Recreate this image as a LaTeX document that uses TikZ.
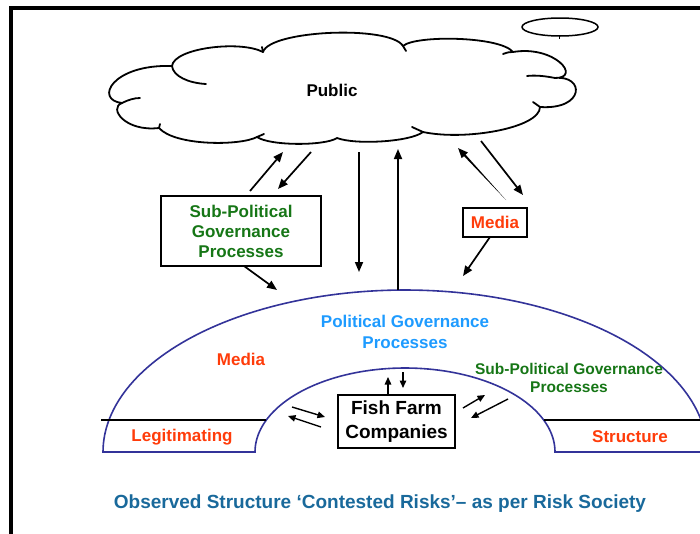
\documentclass[tikz,border=0pt]{standalone}
\usepackage{fontspec}
\setmainfont{Liberation Sans}
\usetikzlibrary{arrows.meta,calc}
\definecolor{navy}{RGB}{51,51,153}
\definecolor{sgreen}{RGB}{22,118,22}
\definecolor{mred}{RGB}{255,60,10}
\definecolor{pblue}{RGB}{30,155,255}
\definecolor{cblue}{RGB}{25,105,155}
\begin{document}
\begin{tikzpicture}[x=1pt,y=-1pt,
  arr/.style={line width=1.7pt,-{Triangle[length=10pt,width=8pt]}},
  sarr/.style={line width=1.4pt,-{Triangle[length=7.5pt,width=6.5pt]}},
  lbl/.style={font=\bfseries\fontsize{17}{20}\selectfont,align=center,inner sep=0pt},
  boxed/.style={draw,line width=1.5pt,inner sep=0pt,align=center},
  cl/.style={line width=1.8pt,line join=round,line cap=round}]
\useasboundingbox (0,0) rectangle (700,533);
\clip (0,0) rectangle (700,533);
% frame
\draw[line width=4pt] (11,545) -- (11,8) -- (710,8);
% small ellipse
\draw[line width=1.5pt] (560,27) ellipse [x radius=38, y radius=9];
\draw[line width=0.8pt] (559,35) -- (559,39);
% cloud
\draw[cl] (122,103) .. controls (94,100) and (112,64) .. (172,66)
  .. controls (174,48) and (240,40) .. (263,52)
  .. controls (270,30) and (390,25) .. (403,46)
  .. controls (415,35) and (500,36) .. (513,52)
  .. controls (555,45) and (582,78) .. (555,78)
  .. controls (585,75) and (585,110) .. (540,107)
  .. controls (540,128) and (465,141) .. (423,132)
  .. controls (410,142) and (355,145) .. (337,138)
  .. controls (325,146) and (270,146) .. (257,137)
  .. controls (240,146) and (175,146) .. (159,128)
  .. controls (125,132) and (108,108) .. (122,103) -- cycle;
\draw[cl] (172,66) .. controls (173,76) and (188,83) .. (206,84);
\draw[cl] (263,52) .. controls (263,49) .. (262,47);
\draw[cl] (403,46) .. controls (405,48) .. (406,51);
\draw[cl] (513,52) .. controls (509,52) .. (503,54);
\draw[cl] (555,78) .. controls (545,76) and (535,75) .. (527,76);
\draw[cl] (540,107) .. controls (537,105) .. (533,102);
\draw[cl] (423,132) .. controls (418,130) .. (412,127);
\draw[cl] (257,137) .. controls (260,136) .. (264,134);
\draw[cl] (159,128) .. controls (160,126) .. (160,124);
\draw[cl] (122,103) .. controls (128,100) and (134,98) .. (140,98);
\node[lbl] (public) at (332,90) {Public};
% arch
\draw[navy,line width=1.6pt] (103,452) -- plot[domain=180:360,samples=120] ({405+302*cos(\x)},{452+162*sin(\x)})
  -- (555,452) -- plot[domain=0:-180,samples=90] ({405+150*cos(\x)},{452+84*sin(\x)}) -- cycle;
\draw[line width=1.3pt] (101,420) -- (266,420);
\draw[line width=1.3pt] (544,420) -- (705,420);
% boxes
\node[boxed,lbl,text=sgreen,minimum width=160pt,minimum height=70pt] (sub) at (241,231) {Sub-Political\\Governance\\Processes};
\node[boxed,lbl,text=mred,minimum width=64pt,minimum height=29pt] (media) at (495,222.5) {Media};
\node[boxed,lbl,font=\bfseries\fontsize{19}{24}\selectfont,minimum width=117pt,minimum height=53pt] (fish) at (396.5,421.5) {Fish Farm\\Companies};
% labels
\node[lbl,text=pblue,font=\bfseries\fontsize{17}{21}\selectfont] (pgp) at (405,332) {Political Governance\\Processes};
\node[lbl,text=mred] (media2) at (241,359) {Media};
\node[lbl,text=sgreen,font=\bfseries\fontsize{15.5}{18}\selectfont] (spg) at (569,378) {Sub-Political Governance\\Processes};
\node[lbl,text=mred] (legit) at (182,437) {Legitimating};
\node[lbl,text=mred] (struct) at (630,437) {Structure};
\node[lbl,text=cblue,font=\bfseries\fontsize{19}{22}\selectfont] (cap) at (380,504) {Observed Structure ‘Contested Risks’– as per Risk Society};
% arrow endpoints
\coordinate (s1) at (250,191); \coordinate (t1) at (283,152);
\coordinate (s2) at (311,152); \coordinate (t2) at (278,189);
\coordinate (s3) at (359,152); \coordinate (t3) at (359,272);
\coordinate (s4) at (398,290); \coordinate (t4) at (398,149);
\coordinate (s5) at (506,200); \coordinate (t5) at (458,148);
\coordinate (s6) at (481,141); \coordinate (t6) at (523,195);
\coordinate (s7) at (490,237); \coordinate (t7) at (463,276);
\coordinate (s8) at (244,266); \coordinate (t8) at (277,290);
\draw[arr] (s1) -- (t1);
\draw[arr] (s2) -- (t2);
\draw[arr] (s3) -- (t3);
\draw[arr] (s4) -- (t4);
\coordinate (b5) at ($(t5)!9pt!(s5)$);
\fill (s5) -- ($(b5)!1.1pt!90:(t5)$) -- ($(b5)!1.1pt!-90:(t5)$) -- cycle;
\draw[arr] (b5) -- (t5);
\draw[arr] (s6) -- (t6);
\draw[arr] (s7) -- (t7);
\draw[arr] (s8) -- (t8);
% small arrows round the fish farm box
\coordinate (u1) at (388,394); \coordinate (v1) at (388,377);
\coordinate (u2) at (403,372); \coordinate (v2) at (403,388);
\coordinate (u3) at (292,407); \coordinate (v3) at (325,417);
\coordinate (u4) at (321,427); \coordinate (v4) at (288,416);
\coordinate (u5) at (463,408); \coordinate (v5) at (485,395);
\coordinate (u6) at (508,399); \coordinate (v6) at (471,418);
\draw[sarr] (u1) -- (v1);
\draw[sarr] (u2) -- (v2);
\draw[sarr] (u3) -- (v3);
\draw[sarr] (u4) -- (v4);
\draw[sarr] (u5) -- (v5);
\draw[sarr] (u6) -- (v6);
\end{tikzpicture}
\end{document}
